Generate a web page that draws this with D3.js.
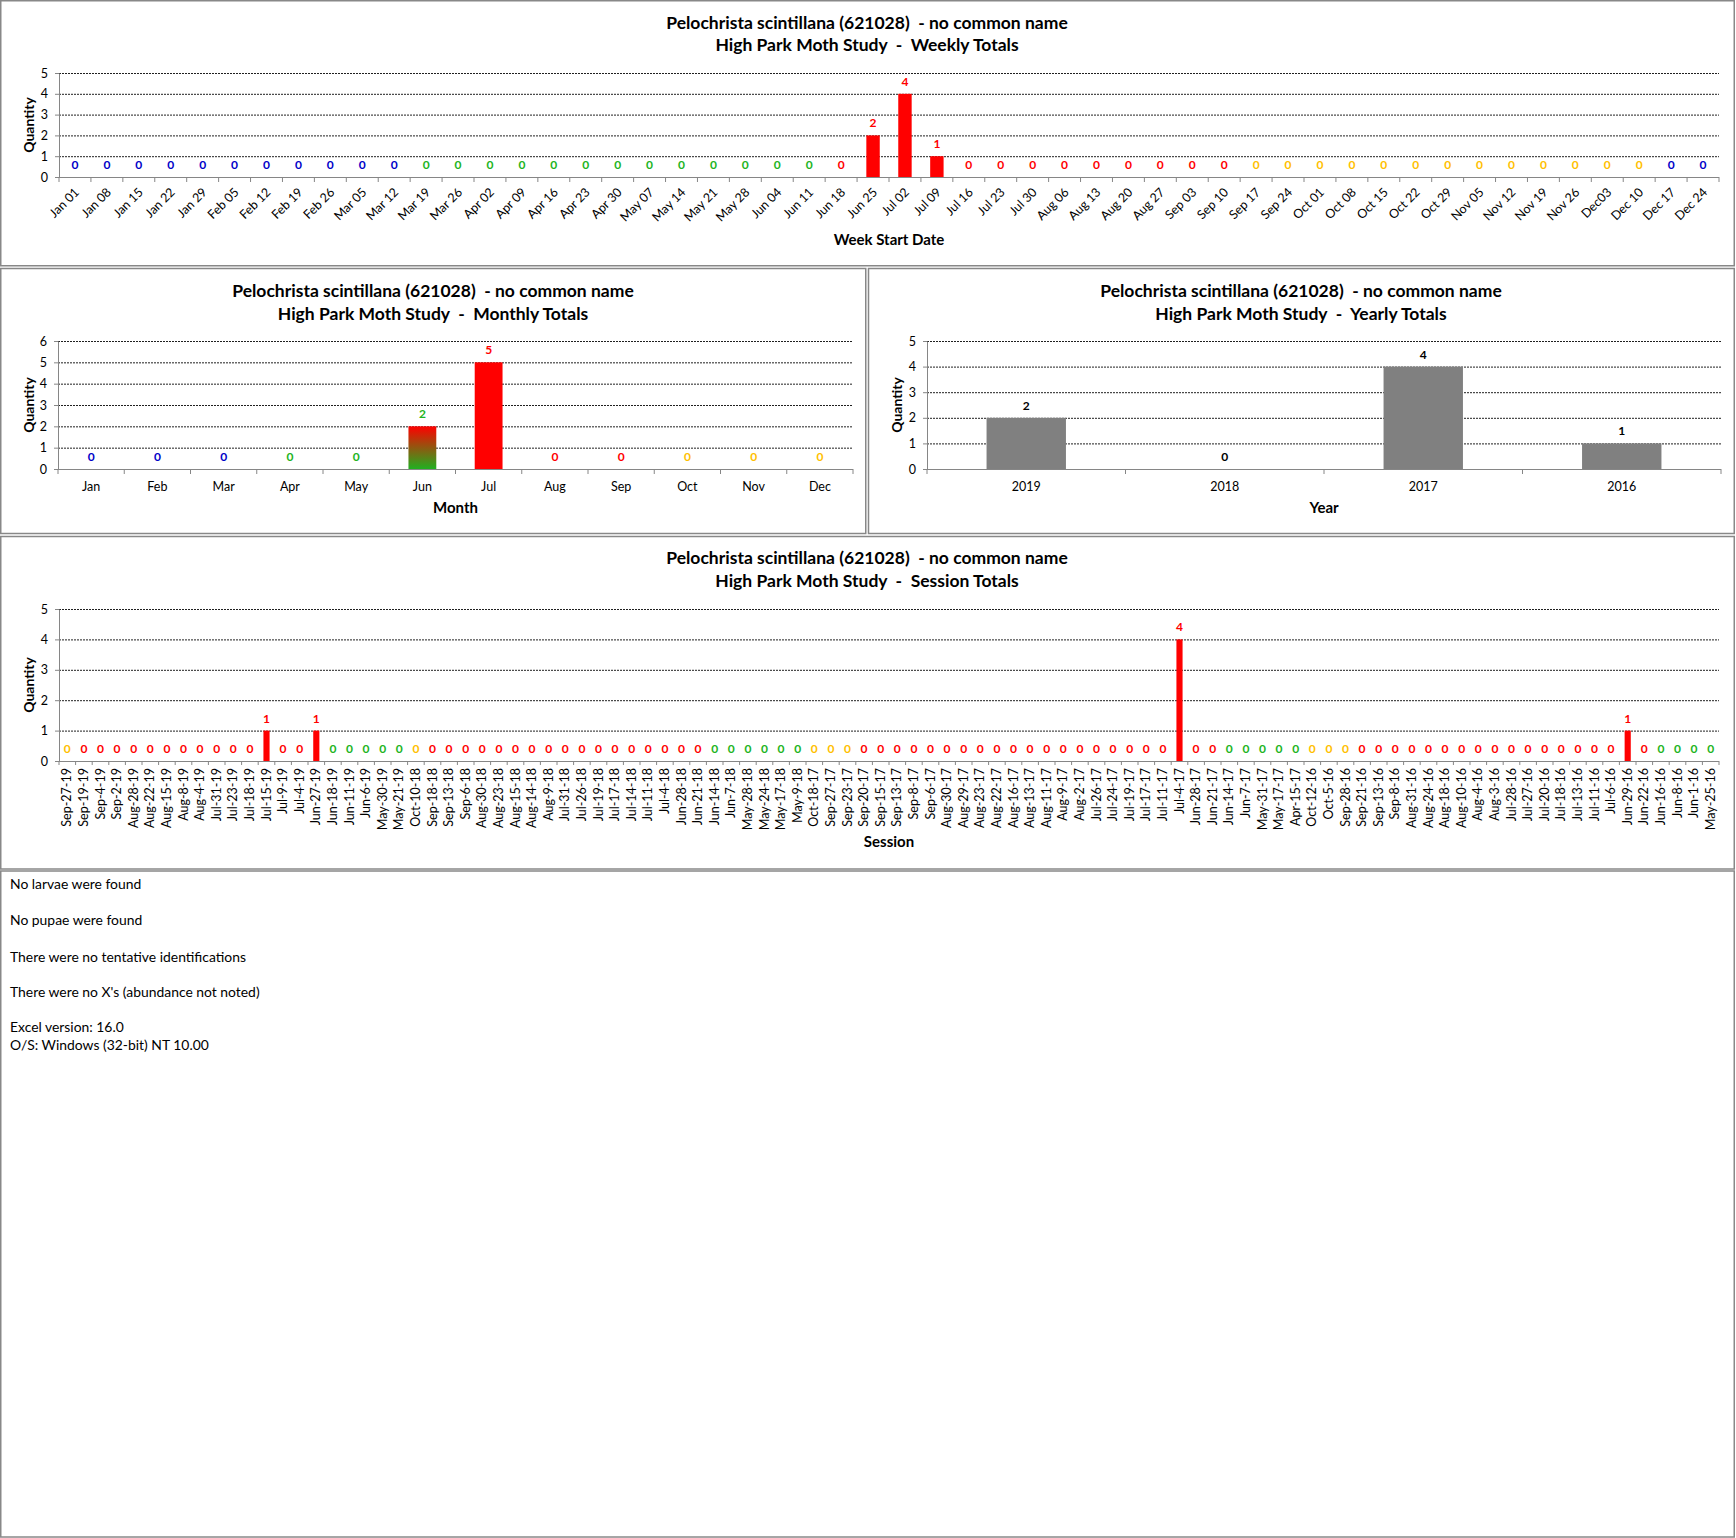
<!DOCTYPE html>
<html><head><meta charset="utf-8">
<script src="https://cdn.jsdelivr.net/npm/d3@7"></script>
<style>
body{margin:0;background:#fff;}
svg{display:block;}
text{font-family:Lato,"Noto Sans",sans-serif;white-space:pre;}
</style></head><body>
<svg id="c" width="1736" height="1538"></svg>
<script>
// ---------------- DATA ----------------
const speciesTitle = "Pelochrista scintillana (621028)  - no common name";
const studyName = "High Park Moth Study  -  ";
const chartNames = ["Weekly Totals","Monthly Totals","Yearly Totals","Session Totals"];

const weekLabels = ["Jan 01","Jan 08","Jan 15","Jan 22","Jan 29","Feb 05","Feb 12","Feb 19","Feb 26","Mar 05","Mar 12","Mar 19","Mar 26",
"Apr 02","Apr 09","Apr 16","Apr 23","Apr 30","May 07","May 14","May 21","May 28","Jun 04","Jun 11","Jun 18","Jun 25",
"Jul 02","Jul 09","Jul 16","Jul 23","Jul 30","Aug 06","Aug 13","Aug 20","Aug 27","Sep 03","Sep 10","Sep 17","Sep 24",
"Oct 01","Oct 08","Oct 15","Oct 22","Oct 29","Nov 05","Nov 12","Nov 19","Nov 26","Dec03","Dec 10","Dec 17","Dec 24"];
const weekValues = [0,0,0,0,0,0,0,0,0,0,0,0,0,
0,0,0,0,0,0,0,0,0,0,0,0,2,
4,1,0,0,0,0,0,0,0,0,0,0,0,
0,0,0,0,0,0,0,0,0,0,0,0,0];
const weekSeasons = ["B","B","B","B","B","B","B","B","B","B","B","G","G",
"G","G","G","G","G","G","G","G","G","G","G","R","R",
"R","R","R","R","R","R","R","R","R","R","R","Y","Y",
"Y","Y","Y","Y","Y","Y","Y","Y","Y","Y","Y","B","B"];

const monthLabels = ["Jan","Feb","Mar","Apr","May","Jun","Jul","Aug","Sep","Oct","Nov","Dec"];
const monthValues = [0,0,0,0,0,2,5,0,0,0,0,0];
const monthSeasons = ["B","B","B","G","G","G","R","R","R","Y","Y","Y"];

const yearLabels = ["2019","2018","2017","2016"];
const yearValues = [2,0,4,1];

const sessionLabels = ["Sep-27-19","Sep-19-19","Sep-4-19","Sep-2-19","Aug-28-19","Aug-22-19","Aug-15-19","Aug-8-19","Aug-4-19","Jul-31-19",
"Jul-23-19","Jul-18-19","Jul-15-19","Jul-9-19","Jul-4-19","Jun-27-19","Jun-18-19","Jun-11-19","Jun-6-19","May-30-19",
"May-21-19","Oct-10-18","Sep-18-18","Sep-13-18","Sep-6-18","Aug-30-18","Aug-23-18","Aug-15-18","Aug-14-18","Aug-9-18",
"Jul-31-18","Jul-26-18","Jul-19-18","Jul-17-18","Jul-14-18","Jul-11-18","Jul-4-18","Jun-28-18","Jun-21-18","Jun-14-18",
"Jun-7-18","May-28-18","May-24-18","May-17-18","May-9-18","Oct-18-17","Sep-27-17","Sep-23-17","Sep-20-17","Sep-15-17",
"Sep-13-17","Sep-8-17","Sep-6-17","Aug-30-17","Aug-29-17","Aug-23-17","Aug-22-17","Aug-16-17","Aug-13-17","Aug-11-17",
"Aug-9-17","Aug-2-17","Jul-26-17","Jul-24-17","Jul-19-17","Jul-17-17","Jul-11-17","Jul-4-17","Jun-28-17","Jun-21-17",
"Jun-14-17","Jun-7-17","May-31-17","May-17-17","Apr-15-17","Oct-12-16","Oct-5-16","Sep-28-16","Sep-21-16","Sep-13-16",
"Sep-8-16","Aug-31-16","Aug-24-16","Aug-18-16","Aug-10-16","Aug-4-16","Aug-3-16","Jul-28-16","Jul-27-16","Jul-20-16",
"Jul-18-16","Jul-13-16","Jul-11-16","Jul-6-16","Jun-29-16","Jun-22-16","Jun-16-16","Jun-8-16","Jun-1-16","May-25-16"];
const sessionValues = [0,0,0,0,0,0,0,0,0,0,
0,0,1,0,0,1,0,0,0,0,
0,0,0,0,0,0,0,0,0,0,
0,0,0,0,0,0,0,0,0,0,
0,0,0,0,0,0,0,0,0,0,
0,0,0,0,0,0,0,0,0,0,
0,0,0,0,0,0,0,4,0,0,
0,0,0,0,0,0,0,0,0,0,
0,0,0,0,0,0,0,0,0,0,
0,0,0,0,1,0,0,0,0,0];
const sessionSeasons = ["Y","R","R","R","R","R","R","R","R","R",
"R","R","R","R","R","R","G","G","G","G",
"G","Y","R","R","R","R","R","R","R","R",
"R","R","R","R","R","R","R","R","R","G",
"G","G","G","G","G","Y","Y","Y","R","R",
"R","R","R","R","R","R","R","R","R","R",
"R","R","R","R","R","R","R","R","R","R",
"G","G","G","G","G","Y","Y","Y","R","R",
"R","R","R","R","R","R","R","R","R","R",
"R","R","R","R","R","R","G","G","G","G"];

const notes = ["No larvae were found","No pupae were found","There were no tentative identifications",
"There were no X's (abundance not noted)","Excel version: 16.0","O/S: Windows (32-bit) NT 10.00"];

// ---------------- STYLE ----------------
const seasonColor = {B:"#0000C8",G:"#22B422",R:"#FF0000",Y:"#FFC000"};
const RED = "#FF0000", GRAY_BAR = "#808080", AXIS = "#868686", BORDER = "#888888";

const svg = d3.select("#c");
svg.append("rect").attr("width",1736).attr("height",1538).attr("fill","#fff");

const defs = svg.append("defs");
const grad = defs.append("linearGradient").attr("id","mixGrad").attr("x1",0).attr("y1",0).attr("x2",0).attr("y2",1);
grad.append("stop").attr("offset","0%").attr("stop-color",RED);
grad.append("stop").attr("offset","100%").attr("stop-color","#20B020");

// panels
const panels = [[0.75,0.75,1733.5,265],[0.75,268.5,865,265],[868.5,268.5,865.75,265],[0.75,536.5,1733.5,332.5],[0.75,871,1733.5,666]];
svg.selectAll(".panel").data(panels).join("rect")
  .attr("x",d=>d[0]).attr("y",d=>d[1]).attr("width",d=>d[2]).attr("height",d=>d[3])
  .attr("fill","none").attr("stroke",BORDER).attr("stroke-width",1.5);

function chart(o){
  const g = svg.append("g");
  const n = o.labels.length;
  const idx = d3.range(n);
  const xs = d3.scaleBand().domain(idx).range([o.x0,o.x1]);
  const xb = d3.scaleBand().domain(idx).range([o.x0,o.x1])
      .paddingInner(1-o.barRatio).paddingOuter((1-o.barRatio)/2);
  const y = d3.scaleLinear().domain([0,o.yMax]).range([o.yBot,o.yTop]);
  const cx = i => xs(i) + xs.bandwidth()/2;

  // titles
  g.append("text").attr("x",o.tx).attr("y",o.ty).attr("text-anchor","middle")
    .attr("font-weight","bold").attr("font-size",17.5).text(speciesTitle);
  g.append("text").attr("x",o.tx).attr("y",o.ty+22.5).attr("text-anchor","middle")
    .attr("font-weight","bold").attr("font-size",17.5).text(studyName + o.name);

  // gridlines
  g.selectAll(".grid").data(d3.range(1,o.yMax+1)).join("line")
    .attr("x1",o.x0).attr("x2",o.x1).attr("y1",d=>y(d)+0.5).attr("y2",d=>y(d)+0.5)
    .attr("stroke","#202020").attr("stroke-width",1).attr("stroke-dasharray","2,1");

  // y axis
  const ya = g.append("g").attr("transform",`translate(${o.x0},0)`)
    .call(d3.axisLeft(y).ticks(o.yMax).tickSize(4).tickSizeOuter(0).tickPadding(7).tickFormat(d3.format("d")));
  ya.select(".domain").attr("stroke",AXIS);
  ya.selectAll(".tick line").attr("stroke",AXIS);
  ya.selectAll(".tick text").attr("font-family","Lato").attr("font-size",12.5).attr("fill","#000");

  // bars
  const data = o.values.map((v,i)=>({v,i}));
  g.selectAll(".bar").data(data.filter(d=>d.v>0)).join("rect")
    .attr("x",d=>xb(d.i)).attr("width",xb.bandwidth())
    .attr("y",d=>y(d.v)).attr("height",d=>y(0)-y(d.v))
    .attr("fill",d=>o.barFill(d));

  // x axis
  g.append("line").attr("x1",o.x0).attr("x2",o.x1).attr("y1",o.yBot+0.5).attr("y2",o.yBot+0.5).attr("stroke",AXIS);
  g.selectAll(".xt").data(d3.range(n+1)).join("line")
    .attr("x1",d=> d<n ? xs(d) : o.x1).attr("x2",d=> d<n ? xs(d) : o.x1)
    .attr("y1",o.yBot).attr("y2",o.yBot+o.tickLen).attr("stroke",AXIS);

  // value labels
  g.selectAll(".vl").data(data).join("text")
    .attr("x",d=>cx(d.i)).attr("y",d=>y(d.v)-8).attr("text-anchor","middle")
    .attr("font-weight","bold").attr("font-size",12)
    .attr("fill",d=>o.valueColor(d)).text(d=>d.v);

  // category labels
  const cl = g.selectAll(".cl").data(idx).join("text").attr("font-size",o.labelSize).attr("fill","#000").text(d=>o.labels[d]);
  if(o.labelMode==="diag"){
    cl.attr("text-anchor","end").attr("transform",d=>`translate(${cx(d)+5},${o.yBot+16}) rotate(-45)`);
  } else if(o.labelMode==="vert"){
    cl.attr("text-anchor","end").attr("transform",d=>`translate(${cx(d)+4},${o.yBot+7}) rotate(-90)`);
  } else {
    cl.attr("text-anchor","middle").attr("x",d=>cx(d)).attr("y",o.yBot+22);
  }

  // axis titles
  g.append("text").attr("x",(o.x0+o.x1)/2).attr("y",o.axTitleY).attr("text-anchor","middle")
    .attr("font-weight","bold").attr("font-size",15).text(o.axisTitle);
  g.append("text").attr("transform",`translate(${o.qx},${(o.yTop+o.yBot)/2}) rotate(-90)`)
    .attr("text-anchor","middle").attr("dominant-baseline","central")
    .attr("font-family","'Liberation Sans',Arial,sans-serif").attr("font-weight","bold").attr("font-size",14)
    .text("Quantity");
}

// Weekly
chart({labels:weekLabels, values:weekValues, yMax:5, x0:59, x1:1719, yTop:73, yBot:177,
  tx:867, ty:28.5, name:chartNames[0], barRatio:0.42, tickLen:5, labelMode:"diag", labelSize:12.5,
  axisTitle:"Week Start Date", axTitleY:245, qx:28,
  barFill:()=>RED, valueColor:d=>seasonColor[weekSeasons[d.i]]});

// Monthly
chart({labels:monthLabels, values:monthValues, yMax:6, x0:58, x1:853, yTop:341, yBot:469,
  tx:433, ty:297, name:chartNames[1], barRatio:0.42, tickLen:5, labelMode:"horiz", labelSize:12.5,
  axisTitle:"Month", axTitleY:513, qx:28,
  barFill:d=> monthSeasons[d.i]==="G" ? "url(#mixGrad)" : RED,
  valueColor:d=>seasonColor[monthSeasons[d.i]]});

// Yearly
chart({labels:yearLabels, values:yearValues, yMax:5, x0:927, x1:1721, yTop:341, yBot:469,
  tx:1301, ty:297, name:chartNames[2], barRatio:0.40, tickLen:5, labelMode:"horiz", labelSize:12.5,
  axisTitle:"Year", axTitleY:513, qx:896,
  barFill:()=>GRAY_BAR, valueColor:()=>"#000"});

// Session
chart({labels:sessionLabels, values:sessionValues, yMax:5, x0:59, x1:1719, yTop:609, yBot:761,
  tx:867, ty:564, name:chartNames[3], barRatio:0.37, tickLen:4, labelMode:"vert", labelSize:12.5,
  axisTitle:"Session", axTitleY:847, qx:28,
  barFill:()=>RED, valueColor:d=>seasonColor[sessionSeasons[d.i]]});

// notes
const noteY = [889,925,962,997,1032,1050];
svg.selectAll(".note").data(notes).join("text")
  .attr("x",10).attr("y",(d,i)=>noteY[i]).attr("font-size",13.9).attr("fill","#000").text(d=>d);
</script>
</body></html>
